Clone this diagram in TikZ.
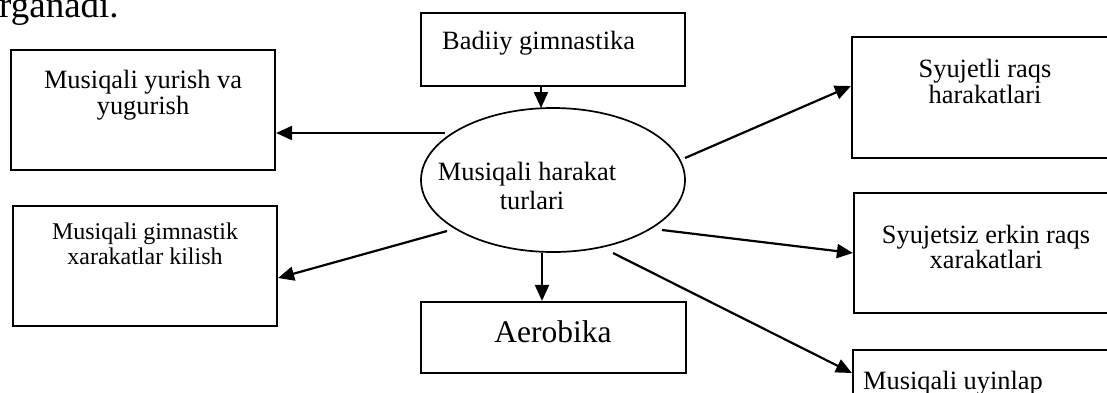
\documentclass[tikz,border=0pt]{standalone}
\usepackage{fontspec}
\setmainfont{Liberation Serif}
\usetikzlibrary{shapes.geometric,arrows.meta}
\begin{document}
\begin{tikzpicture}[x=1pt,y=-1pt,
  box/.style={draw,line width=2.2pt,inner sep=0pt,rectangle},
  arr/.style={line width=2.2pt,-{Triangle[length=16pt,width=14pt]}},
  txt/.style={inner sep=0pt,font=\fontsize{26.4}{30}\selectfont},
  txs/.style={inner sep=0pt,font=\fontsize{24}{28}\selectfont},
  txb/.style={inner sep=0pt,font=\fontsize{31.5}{36}\selectfont}]
\useasboundingbox (0,0) rectangle (1107,392);
\clip (0,0) rectangle (1107,392);

% heading fragment
\node[inner sep=0pt,anchor=base west,font=\fontsize{37}{42}\selectfont] (head) at (-1,17) {rganadi.};

% boxes
\node[box,minimum width=264pt,minimum height=120pt] (yur) at (143,110) {};
\node[box,minimum width=264pt,minimum height=73pt] (bad) at (553,49.5) {};
\node[box,minimum width=264pt,minimum height=120pt] (gim) at (145,266) {};
\node[box,minimum width=265pt,minimum height=71pt] (aer) at (553.5,337.5) {};
\node[box,minimum width=266pt,minimum height=121pt] (syu) at (985,97.5) {};
\node[box,minimum width=264pt,minimum height=120pt] (ser) at (986,253) {};
\node[box,minimum width=265pt,minimum height=70pt] (uyi) at (985.5,385) {};

% central ellipse
\node[draw,ellipse,line width=1.7pt,inner sep=0pt,minimum width=264pt,minimum height=144pt] (ell) at (553,180) {};

% texts
\node[txt,anchor=base] (yurA) at (143,88) {Musiqali yurish va};
\node[txt,anchor=base] (yurB) at (143,114) {yugurish};
\node[txt,anchor=base west] (badA) at (442,49) {Badiiy gimnastika};
\node[txs,anchor=base] (gimA) at (145,239) {Musiqali gimnastik};
\node[txs,anchor=base] (gimB) at (145,264) {xarakatlar kilish};
\node[txt,anchor=base] (ellA) at (527,180) {Musiqali harakat};
\node[txt,anchor=base] (ellB) at (532,209) {turlari};
\node[txb,anchor=base] (aerA) at (553,342) {Aerobika};
\node[txt,anchor=base] (syuA) at (985,77) {Syujetli raqs};
\node[txt,anchor=base] (syuB) at (985,103) {harakatlari};
\node[txt,anchor=base] (serA) at (986,243) {Syujetsiz erkin raqs};
\node[txt,anchor=base] (serB) at (986,268) {xarakatlari};
\node[txt,anchor=base west] (uyiA) at (863,389) {Musiqali uyinlap};

% connector start points near the ellipse
\coordinate (eT) at (541,108);
\coordinate (eL) at (445,133);
\coordinate (eLL) at (447,231);
\coordinate (eB) at (542,253);
\coordinate (eR) at (685,158);
\coordinate (eRR) at (662,230);
\coordinate (eBR) at (613,253);

% connectors
\draw[arr] (bad.south -| eT) -- (eT);
\draw[arr] (eL) -- (yur.east |- eL);
\draw[arr] (eLL) -- ([yshift=-12pt]gim.east);
\draw[arr] (eB) -- (aer.north -| eB);
\draw[arr] (eR) -- ([yshift=11.5pt]syu.west);
\draw[arr] (eRR) -- (ser.west);
\draw[arr] (eBR) -- ([yshift=12pt]uyi.west);
\end{tikzpicture}
\end{document}
